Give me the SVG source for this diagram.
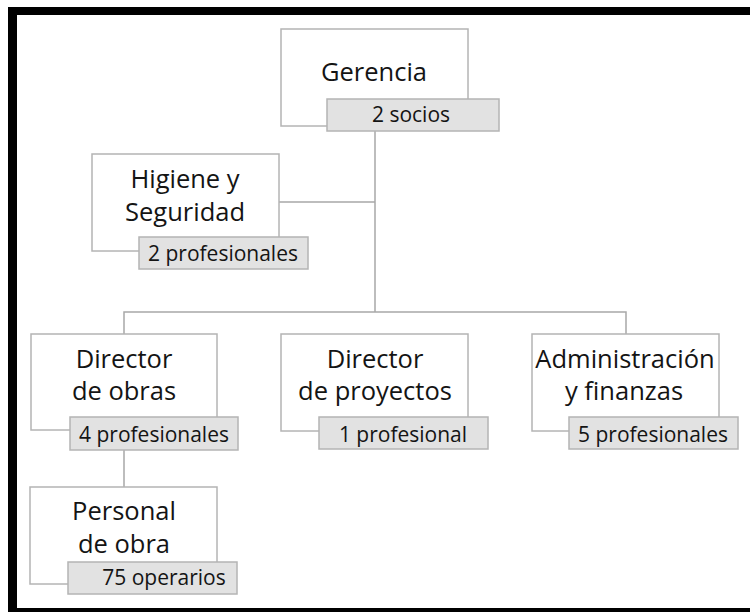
<svg xmlns="http://www.w3.org/2000/svg" width="750" height="612" viewBox="0 0 750 612">
<style>
.box{fill:#fff;stroke:#b4b4b4;stroke-width:1.5}
.tag{fill:#e2e2e2;stroke:#b4b4b4;stroke-width:1.5}
.ln{fill:none;stroke:#a8a8a8;stroke-width:1.5}
.t{font-family:"Open Sans",Lato,sans-serif;font-size:25.5px;fill:#141414;text-anchor:middle}
.s{font-family:"Open Sans",Lato,sans-serif;font-size:21px;fill:#141414;text-anchor:middle}
</style>
<rect x="0" y="0" width="750" height="612" fill="#fff"/>
<g id="frame" fill="#000">
<rect x="8" y="7" width="742" height="8"/>
<rect x="8" y="7" width="9" height="605"/>
<rect x="8" y="608" width="742" height="4"/>
</g>
<g id="connectors">
<path class="ln" d="M375 131V312M124 334V312H626V334M279 202H375M124 450V487"/>
</g>
<g id="gerencia">
<rect class="box" x="281" y="29" width="187" height="97"/>
<text class="t" x="374" y="81">Gerencia</text>
<rect class="tag" x="327" y="99" width="172" height="32"/>
<text class="s" x="411" y="122">2 socios</text>
</g>
<g id="higiene">
<rect class="box" x="92" y="154" width="187" height="97"/>
<text class="t" x="185" y="188">Higiene y</text>
<text class="t" x="185" y="221">Seguridad</text>
<rect class="tag" x="139" y="237" width="169" height="32"/>
<text class="s" x="223" y="261">2 profesionales</text>
</g>
<g id="director-obras">
<rect class="box" x="31" y="334" width="186" height="96"/>
<text class="t" x="124" y="368">Director</text>
<text class="t" x="124" y="400">de obras</text>
<rect class="tag" x="70" y="417" width="168" height="33"/>
<text class="s" x="154" y="442">4 profesionales</text>
</g>
<g id="director-proyectos">
<rect class="box" x="281" y="334" width="187" height="97"/>
<text class="t" x="375" y="368">Director</text>
<text class="t" x="375" y="400">de proyectos</text>
<rect class="tag" x="319" y="417" width="169" height="32"/>
<text class="s" x="403" y="442">1 profesional</text>
</g>
<g id="administracion">
<rect class="box" x="532" y="334" width="187" height="97"/>
<text class="t" x="625" y="368">Administración</text>
<text class="t" x="624" y="400">y finanzas</text>
<rect class="tag" x="569" y="417" width="169" height="32"/>
<text class="s" x="653" y="442">5 profesionales</text>
</g>
<g id="personal-obra">
<rect class="box" x="30" y="487" width="187" height="97"/>
<text class="t" x="124" y="520">Personal</text>
<text class="t" x="124" y="553">de obra</text>
<rect class="tag" x="68" y="562" width="169" height="32"/>
<text class="s" x="164" y="585">75 operarios</text>
</g>
</svg>
